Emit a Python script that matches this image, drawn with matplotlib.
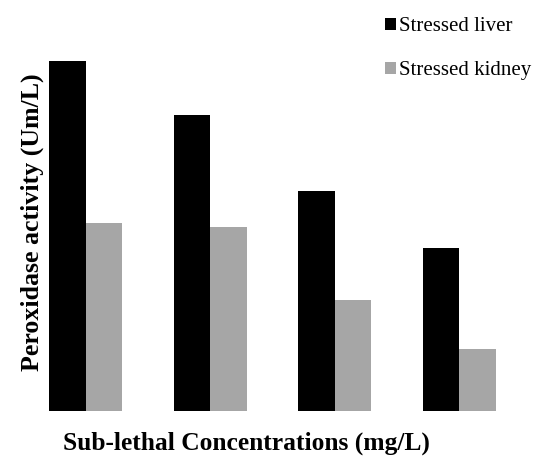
import numpy as np
from matplotlib import pyplot as plt

#   Dati (unita arbitrarie)
groups = ['C1', 'C2', 'C3', 'C4']
liver = [3.50, 2.96, 2.20, 1.63]
kidney = [1.88, 1.84, 1.11, 0.62]

plt.rcParams['font.family'] = ['Liberation Serif', 'DejaVu Serif']

fig = plt.figure(figsize=(5.35, 4.61), dpi=100)
ax = fig.add_axes([49 / 535, 50 / 461, 447 / 535, 350 / 461])

x = np.arange(len(groups))
w = 0.295
ax.bar(x - w / 2, liver, w, color='black', label='Stressed liver')
ax.bar(x + w / 2, kidney, w, color='#a6a6a6', label='Stressed kidney')

ax.set_xlim(-w, 3 + w)
ax.set_ylim(0, 3.5)
for s in ax.spines.values():
    s.set_visible(False)
ax.set_xticks([])
ax.set_yticks([])

fig.text(0.46, 0.039, 'Sub-lethal Concentrations (mg/L)', ha='center', va='center',
         fontsize=18.4, fontweight='bold')
fig.text(0.06, 0.518, 'Peroxidase activity (Um/L)', ha='center', va='center',
         rotation=90, fontsize=18.6, fontweight='bold')

fig.legend(loc='upper left', bbox_to_anchor=(377 / 535, 1 - 9 / 461), frameon=False,
           fontsize=15, handlelength=0.5, handleheight=0.5, handletextpad=0.15,
           labelspacing=1.2, borderaxespad=0)

fig.savefig('out.png', dpi=100)
